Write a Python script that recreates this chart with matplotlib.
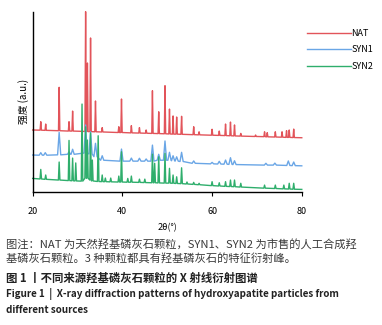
import matplotlib
matplotlib.use("Agg")
import matplotlib.pyplot as plt

plt.rcParams["font.family"] = ["Noto Sans CJK SC", "DejaVu Sans"]

# XRD patterns (2theta in degrees, intensity in a.u. incl. stacking)
series_names = ["NAT", "SYN1", "SYN2"]
series_colors = ["#e2545a", "#6aa6e6", "#2fae6c"]

nat_start, nat_end = 34.3, 30.0
nat_peaks = [21.8, 22.9, 25.9, 28.1, 28.9, 31.8, 32.2, 32.9, 34.0, 35.5,
             39.2, 39.8, 42.0, 43.8, 45.3, 46.7, 48.1, 49.5, 50.5, 51.3,
             52.1, 53.2, 55.9, 57.1, 60.0, 61.6, 63.0, 64.1, 65.0, 66.4,
             69.7, 71.7, 72.3, 74.1, 75.6, 76.6, 77.2, 78.2]
nat_tops = [38.9, 37.6, 58.0, 38.9, 44.8, 100.0, 71.5, 85.4, 50.4, 35.6,
            36.1, 51.5, 36.7, 35.6, 34.3, 56.1, 44.4, 58.9, 45.9, 42.1,
            41.5, 41.9, 36.1, 33.3, 34.7, 33.7, 37.6, 38.7, 37.1, 32.4,
            31.5, 33.3, 32.8, 33.3, 33.3, 33.9, 34.3, 34.8]
nat_bases = [34.2, 34.1, 33.9, 33.7, 33.7, 33.5, 33.4, 33.4, 33.3, 33.2,
             32.9, 32.9, 32.7, 32.6, 32.5, 32.4, 32.3, 32.2, 32.1, 32.0,
             32.0, 31.9, 31.7, 31.6, 31.4, 31.3, 31.2, 31.1, 31.0, 30.9,
             30.7, 30.6, 30.5, 30.4, 30.3, 30.2, 30.2, 30.1]

syn1_start, syn1_end = 20.4, 14.4
syn1_peaks = [21.8, 22.8, 25.9, 28.1, 28.9, 31.8, 32.9, 34.0, 35.5, 39.8,
              42.0, 43.8, 45.3, 46.7, 48.1, 49.5, 50.5, 51.3, 52.1, 53.2,
              55.9, 60.0, 61.6, 63.0, 64.1, 65.0, 72.0, 74.0, 77.0, 78.2]
syn1_tops = [21.7, 21.7, 33.0, 22.2, 23.6, 37.1, 33.3, 26.9, 20.0, 23.7,
             18.7, 18.6, 18.2, 25.9, 20.8, 28.2, 21.9, 20.0, 19.4, 21.9,
             17.1, 16.3, 16.9, 17.6, 18.9, 17.2, 15.8, 15.9, 17.1, 16.5]
syn1_bases = [20.3, 20.3, 20.5, 20.8, 20.8, 21.5, 21.0, 19.5, 17.5, 17.0,
              17.0, 17.0, 17.0, 17.0, 17.5, 17.5, 17.5, 17.2, 17.0, 16.8,
              15.8, 15.5, 15.4, 15.3, 15.2, 15.1, 14.8, 14.8, 14.6, 14.5]

syn2_start, syn2_end = 7.4, 1.3
syn2_peaks = [21.8, 22.9, 25.9, 28.1, 28.9, 29.6, 31.0, 31.8, 32.2, 32.9,
              33.3, 34.6, 35.5, 36.2, 37.4, 39.2, 39.8, 41.2, 42.0, 43.8,
              45.0, 46.7, 47.2, 48.1, 49.5, 50.5, 51.3, 52.1, 53.2, 54.4,
              55.9, 57.1, 60.0, 61.6, 63.0, 64.1, 65.0, 66.4, 71.7, 74.1,
              76.0, 77.2, 78.2]
syn2_tops = [12.4, 9.3, 16.5, 28.5, 18.7, 16.0, 48.7, 36.0, 28.7, 32.6,
             17.6, 31.1, 9.3, 7.6, 7.6, 8.7, 22.2, 7.4, 8.7, 7.0,
             7.0, 20.9, 15.8, 19.4, 21.3, 13.0, 9.3, 8.3, 13.3, 5.4,
             5.2, 4.7, 5.6, 5.0, 5.6, 6.5, 6.5, 4.7, 3.7, 3.7,
             3.7, 4.7, 4.7]
syn2_bases = [7.1, 6.9, 6.5, 6.2, 6.1, 6.0, 5.9, 7.5, 7.5, 6.5,
              6.0, 5.7, 5.6, 5.6, 5.5, 5.4, 5.4, 5.3, 5.3, 5.2,
              5.1, 5.0, 5.0, 4.9, 4.8, 4.8, 4.7, 4.6, 4.5, 4.3,
              4.1, 3.9, 3.4, 3.2, 3.0, 2.9, 2.8, 2.6, 2.0, 1.8,
              1.6, 1.5, 1.4]


def trace(start, end, peaks, tops, bases, w):
    xs, ys = [20.0], [start]
    for p, t, b in zip(peaks, tops, bases):
        xs += [p - w, p, p + w]
        ys += [b, t, b]
    xs.append(80.0)
    ys.append(end)
    return xs, ys


fig = plt.figure(figsize=(3.82, 3.25), dpi=100)
ax = fig.add_axes([0.0856, 0.410, 0.7044, 0.554])

traces = [
    trace(nat_start, nat_end, nat_peaks, nat_tops, nat_bases, 0.15),
    trace(syn1_start, syn1_end, syn1_peaks, syn1_tops, syn1_bases, 0.35),
    trace(syn2_start, syn2_end, syn2_peaks, syn2_tops, syn2_bases, 0.17),
]
for (xs, ys), name, color in zip(traces, series_names, series_colors):
    ax.plot(xs, ys, color=color, lw=1.0, label=name, clip_on=False)

ax.set_xlim(20, 80)
ax.set_ylim(0, 100)
ax.set_xticks([20, 40, 60, 80])
ax.set_yticks([])
ax.tick_params(axis="x", direction="out", length=3, width=0.8, labelsize=6.5, pad=8)
for s in ["top", "right"]:
    ax.spines[s].set_visible(False)
for s in ["left", "bottom"]:
    ax.spines[s].set_linewidth(1.0)
    ax.spines[s].set_color("black")

ax.set_xlabel("2θ(°)", fontsize=6.5, labelpad=5)
ax.set_ylabel("强度 (a.u.)", fontsize=7, labelpad=3)

ax.legend(loc="upper left", bbox_to_anchor=(1.0, 0.935), frameon=False,
          fontsize=6.5, handlelength=4.8, handletextpad=0.1, labelspacing=0.85,
          borderaxespad=0.2)

fig.text(0.016, 1 - 245 / 325, "图注：NAT 为天然羟基磷灰石颗粒，SYN1、SYN2 为市售的人工合成羟",
         fontsize=8.1, color="#3a3a3a", va="center")
fig.text(0.016, 1 - 259.5 / 325, "基磷灰石颗粒。3 种颗粒都具有羟基磷灰石的特征衍射峰。",
         fontsize=8.1, color="#3a3a3a", va="center")
fig.text(0.016, 1 - 278.5 / 325, "图 1 丨不同来源羟基磷灰石颗粒的 X 射线衍射图谱",
         fontsize=8.2, color="#222222", va="center", fontweight="bold")
fig.text(0.016, 1 - 294.5 / 325, "Figure 1  |  X-ray diffraction patterns of hydroxyapatite particles from",
         fontsize=7.1, color="#222222", va="center", fontweight="bold")
fig.text(0.016, 1 - 310 / 325, "different sources",
         fontsize=7.1, color="#222222", va="center", fontweight="bold")

fig.savefig("out.png", dpi=100)
